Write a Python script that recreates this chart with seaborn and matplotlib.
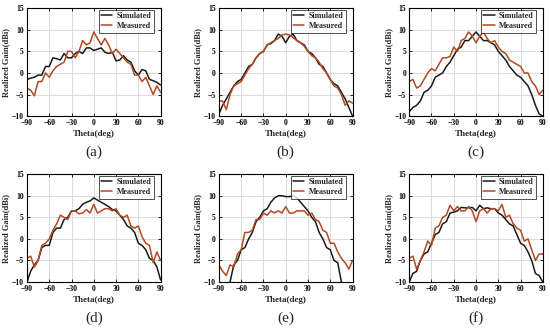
import numpy as np
import pandas as pd
import matplotlib
matplotlib.use("Agg")
import matplotlib.pyplot as plt
import seaborn as sns

# Theta sampled every 5 degrees
theta = list(range(-90, 95, 5))

sim_a = [-1.5, -1.2, -1.0, -0.5, -0.5, 1.5, 1.5, 3.5, 3.3, 3.0, 4.5, 3.5, 3.5, 4.5, 5.0, 4.5, 5.8, 5.8, 5.2,
         5.5, 5.8, 4.8, 4.5, 4.8, 2.8, 3.0, 4.0, 3.0, 2.5, 0.5, -0.5, 0.8, 0.5, -1.5, -1.8, -2.2, -2.8]
mea_a = [-3.5, -4.0, -5.3, -2.0, -2.0, 0.0, -1.0, 0.5, 1.5, 2.0, 2.5, 5.0, 5.0, 3.5, 5.0, 7.5, 6.5, 7.0, 9.5,
         8.0, 6.5, 8.0, 6.5, 4.5, 5.5, 4.5, 3.5, 2.5, 2.0, -0.5, -0.5, -2.0, -1.0, -3.0, -5.0, -3.0, -4.5]

sim_b = [-9.5, -7.5, -6.0, -4.5, -3.0, -2.0, -1.5, 0.0, 1.5, 2.0, 3.5, 4.5, 5.0, 6.5, 6.8, 7.5, 9.0, 8.5, 7.0,
         8.5, 9.0, 7.5, 7.0, 6.5, 5.0, 4.5, 3.5, 2.0, 1.5, 0.0, -1.5, -2.5, -3.0, -4.5, -6.0, -8.0, -10.0]
mea_b = [-6.5, -6.5, -8.5, -5.0, -3.0, -2.5, -2.0, -0.5, 1.0, 2.0, 3.5, 4.5, 5.0, 6.5, 7.0, 7.5, 8.0, 8.8, 9.0,
         8.8, 8.2, 7.5, 7.0, 6.2, 5.0, 4.0, 3.5, 2.5, 1.0, 0.0, -1.5, -3.0, -3.5, -5.0, -7.5, -6.5, -7.0]

sim_c = [-9.0, -8.0, -7.5, -6.5, -4.5, -4.0, -3.0, -1.0, -0.5, 0.0, 1.5, 2.5, 4.0, 5.5, 6.0, 7.5, 7.5, 8.5, 9.5,
         8.5, 7.5, 7.5, 7.0, 6.5, 5.0, 4.0, 3.0, 1.5, 0.5, -0.5, -1.0, -2.0, -3.0, -5.0, -7.5, -9.5, -10.0]
mea_c = [-2.0, -1.5, -3.5, -3.0, -1.5, 0.0, 1.0, 0.5, 2.0, 3.5, 3.5, 3.8, 6.0, 5.0, 7.5, 8.0, 9.5, 8.5, 7.0,
         8.5, 9.5, 8.0, 7.0, 7.5, 6.0, 5.0, 4.5, 3.0, 2.5, 2.0, 1.5, 0.0, 0.0, -2.0, -3.0, -5.0, -4.0]

sim_d = [-10.0, -7.5, -6.0, -5.0, -2.0, -1.5, -1.5, 1.5, 2.5, 2.5, 4.5, 5.0, 6.5, 6.5, 7.0, 8.0, 8.5, 8.8, 9.5,
         9.0, 8.5, 8.0, 7.5, 6.8, 6.5, 5.5, 4.5, 3.0, 2.5, 1.5, -1.0, -1.5, -2.5, -4.5, -5.0, -6.5, -9.5]
mea_d = [-4.5, -4.0, -6.5, -5.0, -1.5, -1.0, 0.0, 2.0, 3.5, 5.5, 5.0, 4.5, 6.5, 6.5, 5.8, 6.0, 6.8, 6.0, 8.0,
         6.0, 6.5, 7.0, 7.0, 6.5, 7.0, 5.5, 5.0, 5.5, 3.0, 2.5, 3.0, 0.5, -1.0, -1.5, -5.5, -3.0, -5.0]

sim_e = [-14.0, -13.0, -12.0, -10.0, -6.0, -5.0, -2.5, -2.0, 0.0, 1.5, 4.0, 5.0, 6.5, 7.0, 8.5, 9.5, 10.0, 10.0, 9.8,
         9.8, 10.0, 9.5, 8.5, 7.5, 6.5, 5.0, 4.0, 1.5, 0.0, -2.0, -2.5, -5.0, -5.5, -10.0, -12.0, -13.0, -14.0]
mea_e = [-6.0, -7.5, -8.5, -6.0, -6.5, -3.5, -2.5, 1.5, 1.5, 2.0, 4.5, 4.5, 6.0, 5.5, 6.5, 6.0, 6.5, 6.0, 7.5,
         6.0, 6.0, 6.5, 6.5, 6.5, 5.5, 6.0, 4.5, 4.0, 2.0, 1.5, -1.0, -1.0, -3.0, -4.5, -5.5, -7.0, -5.0]

sim_f = [-10.0, -8.0, -7.5, -5.0, -3.5, -3.0, -1.0, 1.0, 1.5, 3.5, 4.0, 6.0, 6.2, 6.5, 7.3, 7.2, 7.2, 7.3, 6.5,
         7.8, 7.0, 7.2, 7.0, 7.0, 6.0, 5.5, 4.5, 3.5, 3.0, 1.0, -1.0, -1.5, -3.0, -5.0, -8.0, -8.5, -10.0]
mea_f = [-4.5, -4.0, -7.0, -5.0, -3.0, -0.5, -1.5, 2.5, 3.0, 5.0, 5.5, 7.8, 6.5, 7.5, 6.5, 6.5, 7.5, 6.5, 4.0,
         6.5, 7.0, 6.0, 7.0, 7.0, 6.5, 8.0, 5.0, 5.5, 3.5, 2.5, 2.0, -0.5, 0.0, -2.5, -5.0, -3.5, -3.5]

panels = ["(a)", "(b)", "(c)", "(d)", "(e)", "(f)"]
sim_all = [sim_a, sim_b, sim_c, sim_d, sim_e, sim_f]
mea_all = [mea_a, mea_b, mea_c, mea_d, mea_e, mea_f]

sns.set_theme(style="whitegrid")
plt.rcParams["font.family"] = ["Liberation Serif", "DejaVu Serif"]
plt.rcParams["font.weight"] = "bold"

fig = plt.figure(figsize=(5.5, 3.28), dpi=100)

lefts = [0.049, 0.398, 0.744]
bottoms = [0.646, 0.140]
palette = {"Simulated": "#1a1a1a", "Measured": "#b24a22"}

for i, name in enumerate(panels):
    r, c = divmod(i, 3)
    ax = fig.add_axes([lefts[c], bottoms[r], 0.243, 0.329])
    df = pd.DataFrame({
        "theta": theta * 2,
        "gain": sim_all[i] + mea_all[i],
        "kind": ["Simulated"] * len(theta) + ["Measured"] * len(theta),
    })
    sns.lineplot(data=df, x="theta", y="gain", hue="kind", palette=palette,
                 linewidth=1.1, ax=ax)
    ax.set_xlim(-90, 90)
    ax.set_ylim(-10, 15)
    ax.set_xticks(range(-90, 91, 30))
    ax.set_yticks(range(-10, 16, 5))
    ax.grid(True, color="#d4d4d4", linewidth=0.6)
    for s in ax.spines.values():
        s.set_color("black")
        s.set_linewidth(0.8)
    ax.tick_params(labelsize=5.5, length=2, width=0.6, direction="in", pad=2.2,
                   colors="black", top=True, right=True, left=True, bottom=True)
    for lab in ax.get_xticklabels() + ax.get_yticklabels():
        lab.set_fontweight("bold")
    ax.set_xlabel("Theta(deg)", fontsize=6.5, fontweight="bold", labelpad=2)
    ax.set_ylabel("Realized Gain(dBi)", fontsize=6, fontweight="bold", labelpad=1)
    leg = ax.legend(loc="upper right", bbox_to_anchor=(0.96, 1.0), fontsize=5.8,
                    frameon=True, fancybox=False, borderpad=0.3, handlelength=1.4,
                    labelspacing=0.25, handletextpad=0.5, borderaxespad=0.2)
    leg.get_frame().set_edgecolor("black")
    leg.get_frame().set_linewidth(0.6)
    for t in leg.get_texts():
        t.set_fontweight("bold")
    fig.text(lefts[c] + 0.1215, bottoms[r] - 0.11, name, ha="center", va="center",
             fontsize=11, fontweight="normal")

fig.savefig("out.png", dpi=100, facecolor="white")
